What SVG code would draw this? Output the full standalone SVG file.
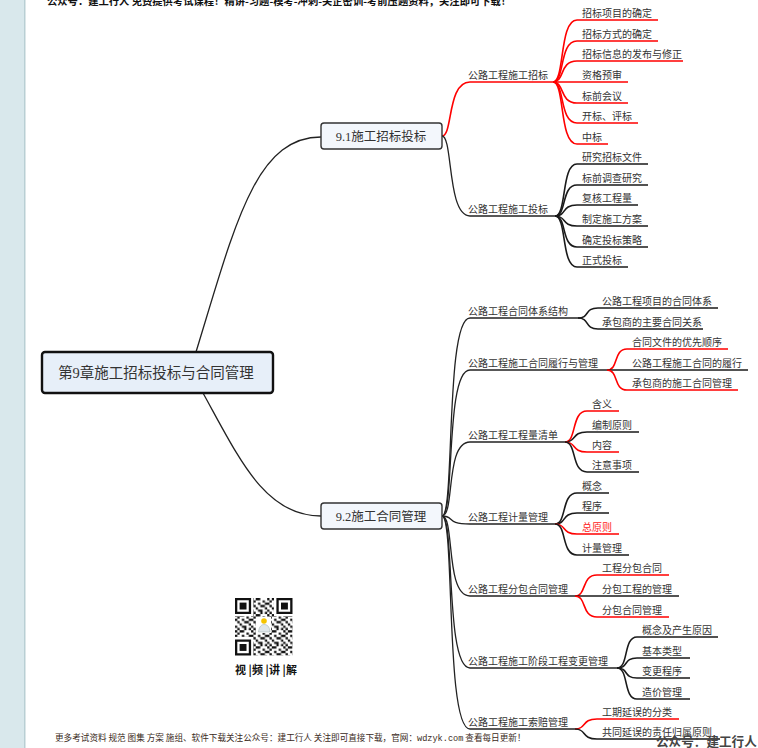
<svg xmlns="http://www.w3.org/2000/svg" width="758" height="748" viewBox="0 0 758 748">
<style>
text{font-family:"Liberation Serif","Noto Sans CJK SC",serif;fill:#333}
.t{font-size:10px}
.n1{font-size:12.5px;text-anchor:middle}
.n0{font-size:14.5px;text-anchor:middle}
.ln{fill:none;stroke:#222;stroke-width:1.3}
.bk{fill:none;stroke:#1a1a1a;stroke-width:1.6}
.rd{fill:none;stroke:#f00;stroke-width:1.6}
.box1{fill:#f3f7fc;stroke:#333;stroke-width:1.4}
.cap{font-family:"Noto Sans CJK SC",sans-serif;font-weight:bold;fill:#111}
</style>
<defs>
<pattern id="qrp" patternUnits="userSpaceOnUse" x="235" y="598" width="16.1" height="16.1">
<path fill="#111" d="M0,0h2.3v2.3h-2.3zM4.6,0h4.6v2.3h-4.6zM2.3,2.3h2.3v2.3h-2.3zM11.5,2.3h2.3v2.3h-2.3zM0,4.6h2.3v2.3h-2.3zM6.9,4.6h2.3v2.3h-2.3zM13.8,4.6h2.3v2.3h-2.3zM2.3,6.9h2.3v2.3h-2.3zM9.2,6.9h4.6v2.3h-4.6zM4.6,9.2h2.3v2.3h-2.3zM13.8,9.2h2.3v2.3h-2.3zM0,11.5h2.3v2.3h-2.3zM6.9,11.5h4.6v2.3h-4.6zM2.3,13.8h2.3v2.3h-2.3zM9.2,13.8h2.3v2.3h-2.3zM13.8,13.8h2.3v2.3h-2.3z"/>
</pattern>
</defs>
<rect x="0" y="0" width="758" height="748" fill="#fff"/>
<rect x="0" y="0" width="24" height="748" fill="#d9e8ec"/>
<rect x="24" y="0" width="1.5" height="748" fill="#b9cfd4"/>
<text x="47" y="4.5" style="font-family:'Noto Sans CJK SC',sans-serif;font-size:10.3px;font-weight:bold;fill:#111">公众号：建工行人 免费提供考试课程！精讲-习题-模考-冲刺-关企密训-考前压题资料，关注即可下载！</text>

<g id="connectors">
<path class="ln" d="M196,352 C235,225 255,137 321,137"/>
<path class="ln" d="M203,393 C240,460 265,516 321,516"/>
<path class="rd" d="M442,136 C453,136 447,82 470,82 L553,82"/>
<path class="ln" d="M442,136 C453,136 447,216 470,216 L555,216"/>
<path class="rd" d="M553,82 C565,82 559,20 577,20 L658,20"/>
<path class="rd" d="M553,82 C565,82 559,41 577,41 L658,41"/>
<path class="rd" d="M553,82 C565,82 559,61 577,61 L683,61"/>
<path class="rd" d="M553,82 L628,82"/>
<path class="rd" d="M553,82 C565,82 559,103 577,103 L628,103"/>
<path class="rd" d="M553,82 C565,82 559,123 577,123 L638,123"/>
<path class="rd" d="M553,82 C565,82 559,144 577,144 L608,144"/>
<path class="bk" d="M555,216 C567,216 561,164 577,164 L648,164"/>
<path class="bk" d="M555,216 C567,216 561,185 577,185 L648,185"/>
<path class="bk" d="M555,216 C567,216 561,205 577,205 L638,205"/>
<path class="bk" d="M555,216 C567,216 561,226 577,226 L648,226"/>
<path class="bk" d="M555,216 C567,216 561,247 577,247 L648,247"/>
<path class="bk" d="M555,216 C567,216 561,267 577,267 L628,267"/>
<path class="ln" d="M442,516 C455,516 445,318 470,318 L578,318"/>
<path class="ln" d="M442,516 C455,516 445,370 470,370 L607,370"/>
<path class="ln" d="M442,516 C455,516 445,442 470,442 L565,442"/>
<path class="ln" d="M442,516 C455,516 445,524 470,524 L555,524"/>
<path class="ln" d="M442,516 C455,516 445,596 470,596 L575,596"/>
<path class="ln" d="M442,516 C455,516 445,668 470,668 L617,668"/>
<path class="ln" d="M442,516 C455,516 445,729 470,729 L575,729"/>
<path class="bk" d="M578,318 C590,318 584,308 598,308 L718,308"/>
<path class="bk" d="M578,318 C590,318 584,329 598,329 L703,329"/>
<path class="rd" d="M607,370 C619,370 613,349 627,349 L728,349"/>
<path class="bk" d="M607,370 L748,370"/>
<path class="rd" d="M607,370 C619,370 613,390 627,390 L738,390"/>
<path class="rd" d="M565,442 C577,442 571,411 587,411 L619,411"/>
<path class="bk" d="M565,442 C577,442 571,432 587,432 L639,432"/>
<path class="rd" d="M565,442 C577,442 571,452 587,452 L619,452"/>
<path class="bk" d="M565,442 C577,442 571,472 587,472 L639,472"/>
<path class="bk" d="M555,524 C567,524 561,493 577,493 L609,493"/>
<path class="bk" d="M555,524 C567,524 561,513 577,513 L609,513"/>
<path class="rd" d="M555,524 C567,524 561,534 577,534 L619,534"/>
<path class="bk" d="M555,524 C567,524 561,555 577,555 L629,555"/>
<path class="rd" d="M575,596 C587,596 581,575 597,575 L669,575"/>
<path class="bk" d="M575,596 L679,596"/>
<path class="rd" d="M575,596 C587,596 581,617 597,617 L669,617"/>
<path class="bk" d="M617,668 C629,668 623,637 637,637 L718,637"/>
<path class="bk" d="M617,668 C629,668 623,658 637,658 L690,658"/>
<path class="bk" d="M617,668 C629,668 623,678 637,678 L690,678"/>
<path class="bk" d="M617,668 C629,668 623,699 637,699 L690,699"/>
<path class="rd" d="M575,729 C587,729 581,719 597,719 L679,719"/>
<path class="bk" d="M575,729 C587,729 581,739 597,739 L720,739"/>
</g>

<g id="root">
<rect x="42" y="352" width="231" height="41" rx="3" fill="#e7eff9" stroke="#111" stroke-width="2.4"/>
<text class="n0" x="156" y="378">第9章施工招标投标与合同管理</text>
</g>
<g id="n91">
<rect class="box1" x="321" y="123" width="121" height="26" rx="3"/>
<text class="n1" x="381" y="141">9.1施工招标投标</text>
</g>
<g id="n92">
<rect class="box1" x="321" y="503" width="121" height="26" rx="3"/>
<text class="n1" x="381" y="521">9.2施工合同管理</text>
</g>

<g id="l2">
<text class="t" x="468" y="78.5">公路工程施工招标</text>
<text class="t" x="468" y="212.5">公路工程施工投标</text>
<text class="t" x="468" y="314.5">公路工程合同体系结构</text>
<text class="t" x="468" y="366.5">公路工程施工合同履行与管理</text>
<text class="t" x="468" y="438.5">公路工程工程量清单</text>
<text class="t" x="468" y="520.5">公路工程计量管理</text>
<text class="t" x="468" y="592.5">公路工程分包合同管理</text>
<text class="t" x="468" y="664.5">公路工程施工阶段工程变更管理</text>
<text class="t" x="468" y="725.5">公路工程施工索赔管理</text>
</g>

<g id="l3">
<text class="t" x="582" y="16.5">招标项目的确定</text>
<text class="t" x="582" y="37.5">招标方式的确定</text>
<text class="t" x="582" y="57.5">招标信息的发布与修正</text>
<text class="t" x="582" y="78.5">资格预审</text>
<text class="t" x="582" y="99.5">标前会议</text>
<text class="t" x="582" y="119.5">开标、评标</text>
<text class="t" x="582" y="140.5">中标</text>
<text class="t" x="582" y="160.5">研究招标文件</text>
<text class="t" x="582" y="181.5">标前调查研究</text>
<text class="t" x="582" y="201.5">复核工程量</text>
<text class="t" x="582" y="222.5">制定施工方案</text>
<text class="t" x="582" y="243.5">确定投标策略</text>
<text class="t" x="582" y="263.5">正式投标</text>
<text class="t" x="602" y="304.5">公路工程项目的合同体系</text>
<text class="t" x="602" y="325.5">承包商的主要合同关系</text>
<text class="t" x="632" y="345.5">合同文件的优先顺序</text>
<text class="t" x="632" y="366.5">公路工程施工合同的履行</text>
<text class="t" x="632" y="386.5">承包商的施工合同管理</text>
<text class="t" x="592" y="407.5">含义</text>
<text class="t" x="592" y="428.5">编制原则</text>
<text class="t" x="592" y="448.5">内容</text>
<text class="t" x="592" y="468.5">注意事项</text>
<text class="t" x="582" y="489.5">概念</text>
<text class="t" x="582" y="509.5">程序</text>
<text class="t" x="582" y="530.5" style="fill:#f22">总原则</text>
<text class="t" x="582" y="551.5">计量管理</text>
<text class="t" x="602" y="571.5">工程分包合同</text>
<text class="t" x="602" y="592.5">分包工程的管理</text>
<text class="t" x="602" y="613.5">分包合同管理</text>
<text class="t" x="642" y="633.5">概念及产生原因</text>
<text class="t" x="642" y="654.5">基本类型</text>
<text class="t" x="642" y="674.5">变更程序</text>
<text class="t" x="642" y="695.5">造价管理</text>
<text class="t" x="602" y="715.5">工期延误的分类</text>
<text class="t" x="602" y="735.5">共同延误的责任归属原则</text>
</g>

<g id="qr">
<rect x="235" y="598" width="57.5" height="57.5" fill="url(#qrp)"/>
<rect x="234" y="597" width="19" height="19" fill="#fff"/>
<rect x="274" y="597" width="19" height="19" fill="#fff"/>
<rect x="234" y="637" width="19" height="19" fill="#fff"/>
<g fill="#111">
<path d="M235,598h16.1v16.1h-16.1zM237.3,600.3v11.5h11.5v-11.5z" fill-rule="evenodd"/>
<rect x="239.6" y="602.6" width="6.9" height="6.9"/>
<path d="M276.4,598h16.1v16.1h-16.1zM278.7,600.3v11.5h11.5v-11.5z" fill-rule="evenodd"/>
<rect x="281" y="602.6" width="6.9" height="6.9"/>
<path d="M235,639.4h16.1v16.1h-16.1zM237.3,641.7v11.5h11.5v-11.5z" fill-rule="evenodd"/>
<rect x="239.6" y="644" width="6.9" height="6.9"/>
</g>
<rect x="256" y="617" width="15" height="16" fill="#fff"/>
<circle cx="264" cy="621" r="2.8" fill="#f5c400"/>
<path d="M258.5,632 C259,626 262,624.5 264,624.5 C267,624.5 269.5,626 270,632 Z" fill="#dfe6ea" stroke="#9aa" stroke-width="0.5"/>
<text class="cap" y="674" style="font-size:11px"><tspan x="235">视</tspan><tspan x="248.5">|</tspan><tspan x="252">频</tspan><tspan x="265.5">|</tspan><tspan x="269">讲</tspan><tspan x="282.5">|</tspan><tspan x="286">解</tspan></text>
</g>

<text x="55" y="741" style="font-family:'Noto Sans CJK SC',sans-serif;font-size:8.6px;fill:#3a2a22">更多考试资料 规范 图集 方案 施组、软件下载关注公众号：建工行人 关注即可直接下载，官网：<tspan style="font-family:'Liberation Mono',monospace">wdzyk.com</tspan> 查看每日更新！</text>
<text x="656" y="746" style="font-family:'Noto Sans CJK SC',sans-serif;font-size:12.6px;font-weight:bold;fill:#444">公众号：建工行人</text>
</svg>
